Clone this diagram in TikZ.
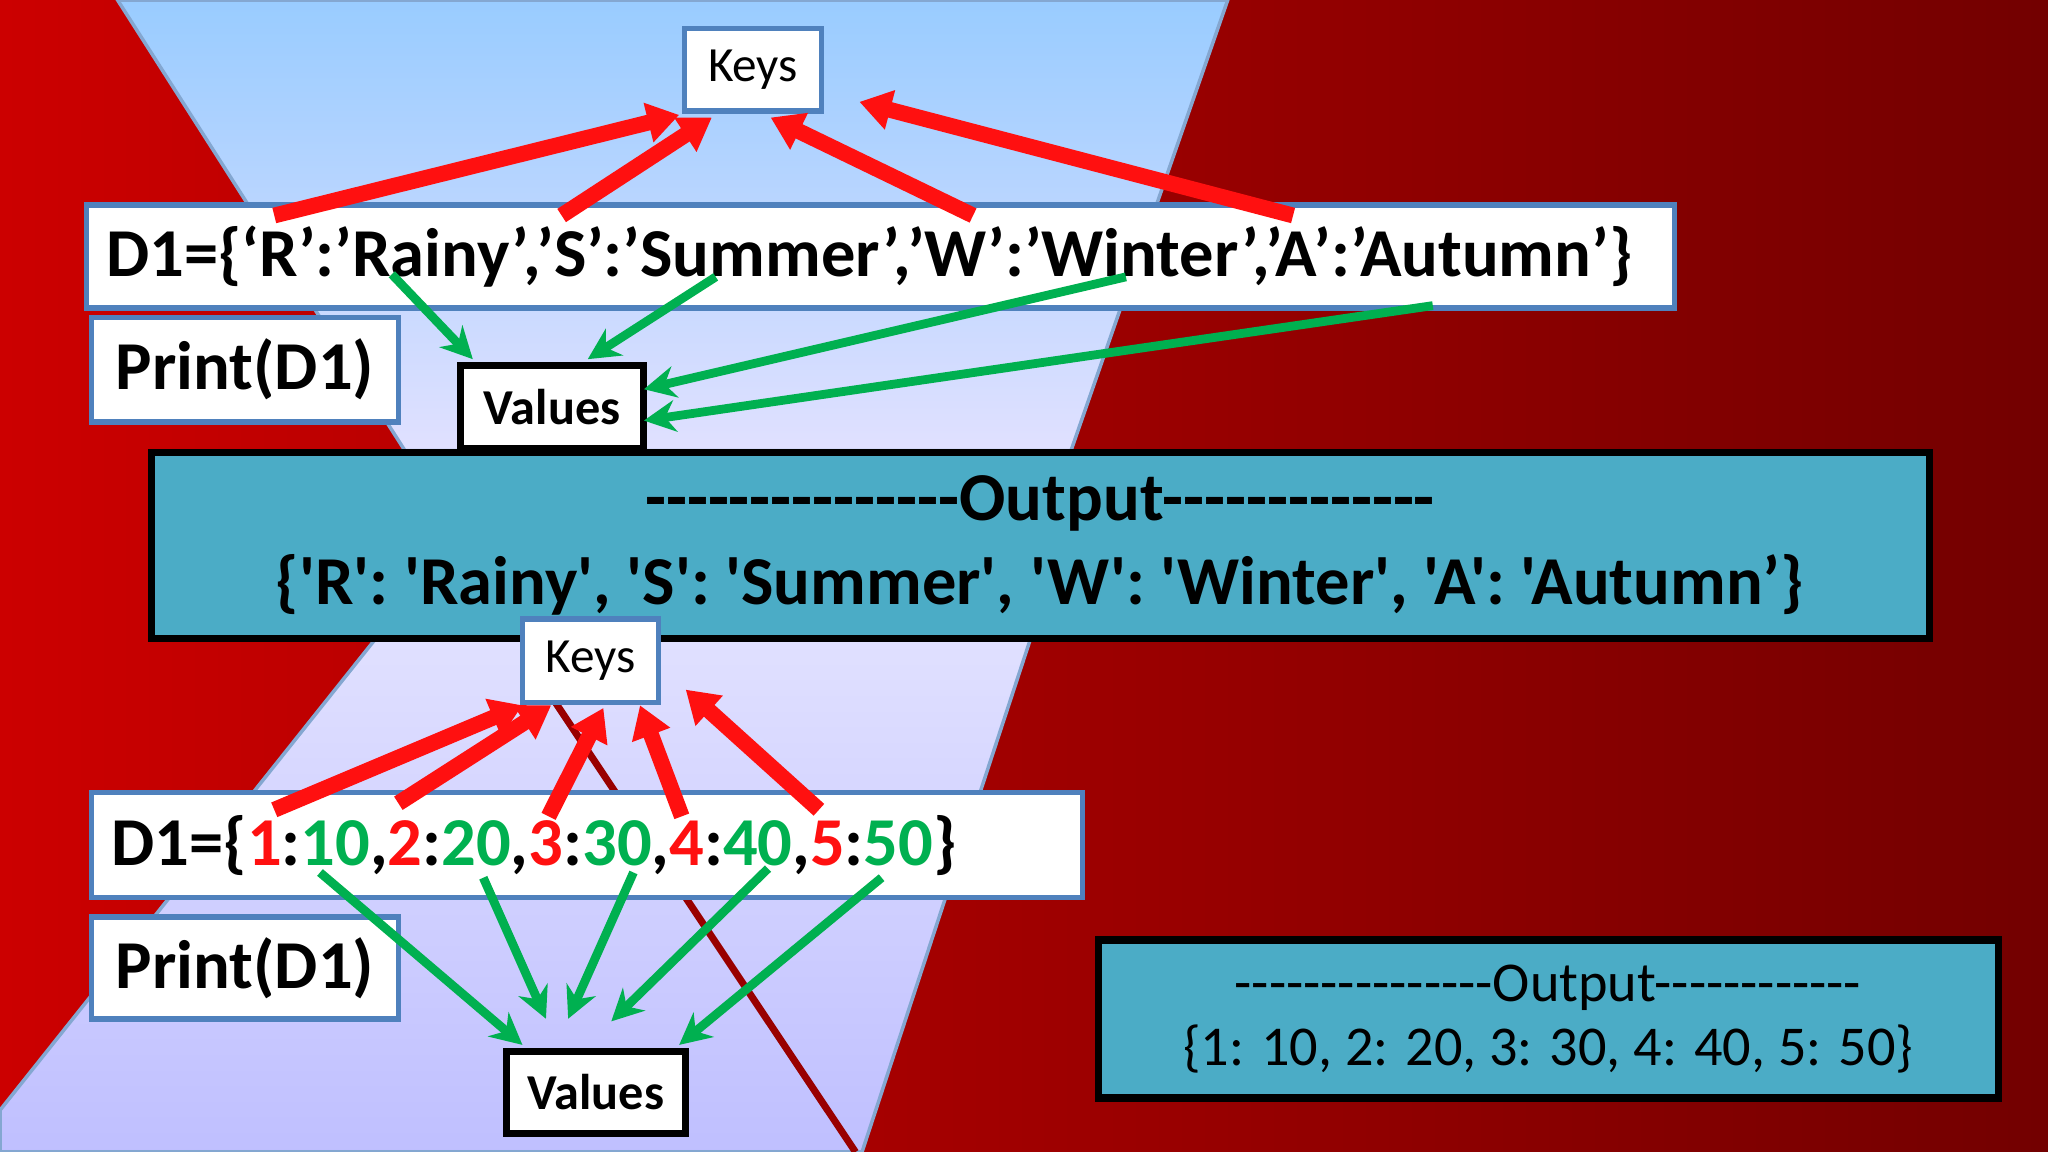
\documentclass[tikz,border=0pt]{standalone}
\usepackage{fontspec}
\setmainfont{Carlito}[Ligatures=TeXOff]
\usetikzlibrary{arrows.meta}
\definecolor{rd}{HTML}{FF1010}
\definecolor{gr}{HTML}{00B050}
\definecolor{tl}{HTML}{4BACC6}
\definecolor{bb}{HTML}{4F81BD}
\begin{document}
\begin{tikzpicture}[x=0.013061cm,y=-0.013061cm,
 wbox/.style={draw=bb,line width=1.5pt,fill=white,anchor=north west,inner sep=0pt},
 kbox/.style={draw=black,line width=2pt,fill=white,anchor=north west,inner sep=0pt},
 obox/.style={draw=black,line width=2pt,fill=tl,anchor=north west,inner sep=0pt},
 big/.style={font=\bfseries\fontsize{19.5}{22}\selectfont},
 redarr/.style={draw=rd,line width=4.5pt,-{Triangle[length=9pt,width=11pt]}},
 grarr/.style={draw=gr,line width=2.5pt,-{Stealth[length=9pt,width=9pt]}}]
\useasboundingbox (0,0) rectangle (1568,882);
\shade[left color=red!80!black,right color=red!45!black] (0,0) rectangle (1568,882);
\shade[top color=blue!25!white!80!cyan,bottom color=blue!12!white,draw=bb!70,line width=1pt] (90,0)--(940,0)--(820,345)--(310,345)--cycle;
\shade[top color=blue!12!white,bottom color=blue!25!white,draw=bb!70,line width=1pt] (290,486)--(790,486)--(660,882)--(0,882)--(0,850)--cycle;
\draw[red!60!black,line width=2pt] (420,530)--(655,882);
% nodes
\node[wbox,minimum width=1.372cm,minimum height=0.823cm,font=\fontsize{14}{16}\selectfont] (k1) at (522,20) {Keys};
\node[wbox,big,minimum width=15.88cm,minimum height=1.03cm,text width=15.88cm,align=left] (d1) at (64,155) {\hspace*{0.2cm}D1=\{‘R’:’Rainy’,’S’:’Summer’,’W’:’Winter’,’A’:’Autumn’\}};
\node[wbox,big,minimum width=3.07cm,minimum height=1.045cm] (p1) at (68,241) {Print(D1)};
\node[kbox,minimum width=1.83cm,minimum height=0.836cm,font=\bfseries\fontsize{14.3}{16}\selectfont] (v1) at (350,277) {Values};
\node[obox,big,minimum width=17.78cm,minimum height=1.855cm,align=center] (o1) at (113,344) {---------------Output-------------\\[2pt]\{'R': 'Rainy', 'S': 'Summer', 'W': 'Winter', 'A': 'Autumn’\}};
\node[wbox,minimum width=1.358cm,minimum height=0.836cm,font=\fontsize{14}{16}\selectfont] (k2) at (398,472) {Keys};
\node[wbox,big,minimum width=9.91cm,minimum height=1.045cm,text width=9.91cm,align=left] (d2) at (68,605) {\hspace*{0.2cm}D1=\{\textcolor{rd}{1}:\textcolor{gr}{10},\textcolor{rd}{2}:\textcolor{gr}{20},\textcolor{rd}{3}:\textcolor{gr}{30},\textcolor{rd}{4}:\textcolor{gr}{40},\textcolor{rd}{5}:\textcolor{gr}{50}\}};
\node[wbox,big,minimum width=3.07cm,minimum height=1.02cm] (p2) at (68,700) {Print(D1)};
\node[kbox,minimum width=1.79cm,minimum height=0.823cm,font=\bfseries\fontsize{14.3}{16}\selectfont] (v2) at (385,802) {Values};
\node[obox,minimum width=9.0cm,minimum height=1.58cm,font=\fontsize{16}{18}\selectfont,align=center] (o2) at (838,717) {---------------Output------------\\[0pt]\{1: 10, 2: 20, 3: 30, 4: 40, 5: 50\}};
% coordinates
\foreach \n/\x/\y in {a1/210/165,a2/430/165,a3/745/165,a4/990/165,
 b1/520/88,b2/545/90,b3/590/90,b4/658/78,
 c1/300/210,c2/548/212,c3/862/212,c4/1097/234,
 e1/362/275,e2/450/275,e3/493/298,e4/493/322,
 f1/210/620,f2/305/615,f3/420/625,f4/522/625,f5/627/620,
 g1/400/540,g2/422/540,g3/462/542,g4/490/540,g5/525/528,
 h1/245/668,h2/370/672,h3/485/668,h4/588/665,h5/675/672,
 i1/400/800,i2/418/780,i3/435/780,i4/468/782,i5/520/800}
 \coordinate (\n) at (\x,\y);
\foreach \i in {1,...,4} {\draw[redarr] (a\i)--(b\i); \draw[grarr] (c\i)--(e\i);}
\foreach \i in {1,...,5} {\draw[redarr] (f\i)--(g\i); \draw[grarr] (h\i)--(i\i);}
\end{tikzpicture}
\end{document}
